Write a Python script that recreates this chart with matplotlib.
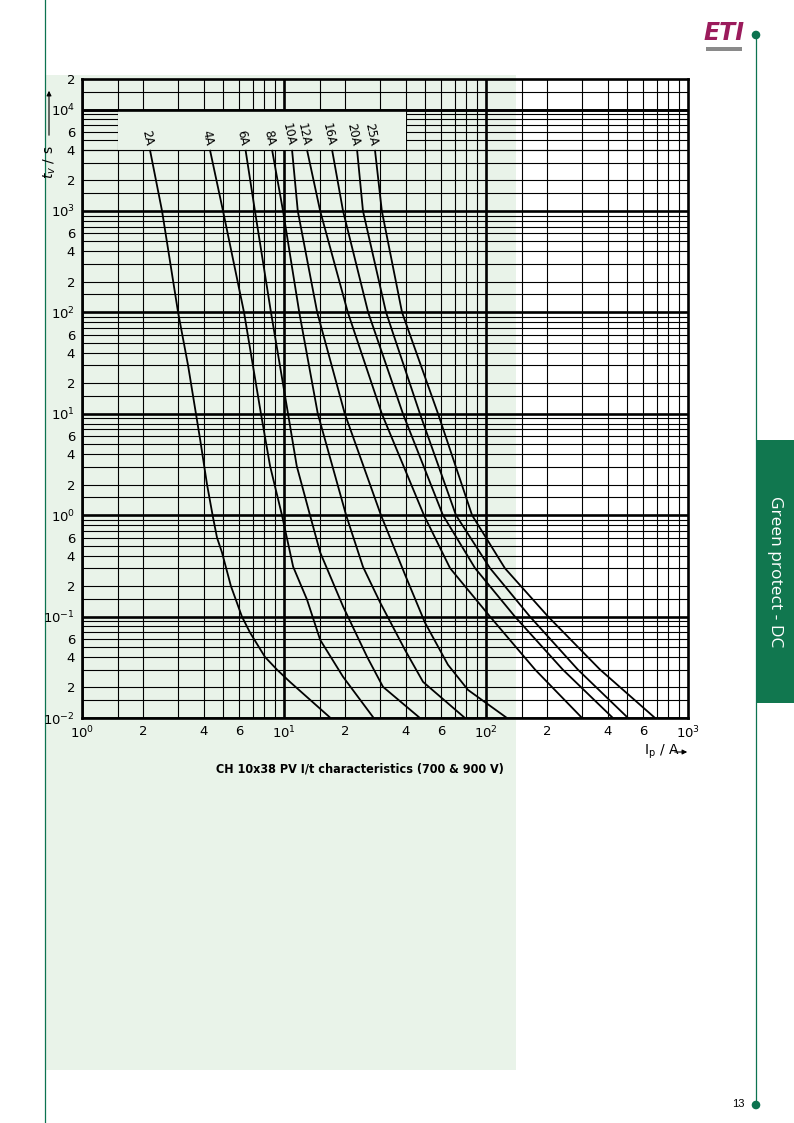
import matplotlib
matplotlib.use('Agg')
import matplotlib.pyplot as plt
from matplotlib.patches import Rectangle, Circle
from matplotlib import font_manager

W, H = 794, 1123

# ---------------- data ----------------
ratings = ['2A', '4A', '6A', '8A', '10A', '12A', '16A', '20A', '25A']

i_2A = [2.17, 2.49, 2.99, 3.35, 3.84, 4.16, 4.45, 4.66, 4.93, 5.46, 6.19, 6.79, 8.05, 9.23, 10.7, 17.0]
t_2A = [4000, 1000, 100, 30, 5.66, 2.0, 0.955, 0.6, 0.43, 0.2, 0.1, 0.0695, 0.04, 0.030, 0.0227, 0.01]

i_4A = [4.30, 4.99, 6.34, 7.69, 8.53, 9.77, 11.1, 13.0, 15.1, 19.6, 27.8]
t_4A = [4000, 1000, 100, 10, 3.06, 1.0, 0.31, 0.147, 0.059, 0.0255, 0.01]

i_6A = [6.45, 7.18, 8.62, 10.47, 11.56, 13.45, 15.1, 19.6, 25.8, 30.9, 47.1]
t_6A = [4000, 1000, 100, 10, 3.06, 1.0, 0.43, 0.126, 0.040, 0.0203, 0.01]

i_8A = [8.73, 9.89, 11.9, 14.7, 20.3, 24.6, 29.9, 39.7, 48.8, 78.7]
t_8A = [4000, 1000, 100, 10, 1.0, 0.31, 0.138, 0.047, 0.0227, 0.01]

i_10A = [10.96, 11.7, 14.6, 20.0, 30.2, 39.7, 49.9, 64.8, 81.5, 127]
t_10A = [4000, 1000, 100, 10, 1.0, 0.26, 0.087, 0.0335, 0.0189, 0.01]

t_big = [4000, 1000, 100, 10, 1.0, 0.3, 0.1, 0.03, 0.01]
i_12A = [13.0, 15.1, 20.7, 30.5, 49.3, 66.4, 104.7, 175, 299]
i_16A = [17.3, 19.6, 26.1, 38.8, 61.2, 88.3, 139, 240, 425]
i_20A = [23.0, 24.6, 32.0, 47.1, 71.0, 104.7, 165, 285, 505]
i_25A = [28.2, 30.5, 38.4, 57.9, 85.3, 124, 203, 367, 687]

curves_i = [i_2A, i_4A, i_6A, i_8A, i_10A, i_12A, i_16A, i_20A, i_25A]
curves_t = [t_2A, t_4A, t_6A, t_8A, t_10A, t_big, t_big, t_big, t_big]

x_ticks = [1, 2, 4, 6, 10, 20, 40, 60, 100, 200, 400, 600, 1000]
x_ticklabels = [r'$10^{0}$', '2', '4', '6', r'$10^{1}$', '2', '4', '6',
                r'$10^{2}$', '2', '4', '6', r'$10^{3}$']
y_ticks = [0.01, 0.02, 0.04, 0.06, 0.1, 0.2, 0.4, 0.6, 1, 2, 4, 6, 10, 20, 40, 60,
           100, 200, 400, 600, 1000, 2000, 4000, 6000, 10000, 20000]
y_ticklabels = [r'$10^{-2}$', '2', '4', '6', r'$10^{-1}$', '2', '4', '6',
                r'$10^{0}$', '2', '4', '6', r'$10^{1}$', '2', '4', '6',
                r'$10^{2}$', '2', '4', '6', r'$10^{3}$', '2', '4', '6',
                r'$10^{4}$', '2']

grid_mult = [1.5, 2, 3, 4, 5, 6, 7, 8, 9]
x_decades = [1, 10, 100]
y_decades = [0.01, 0.1, 1, 10, 100, 1000, 10000]

# ---------------- styling ----------------
BG = '#e9f3e9'
DKGREEN = '#0c7350'
TAB = '#11774f'

# pick a condensed bold face if one is installed
cond_family = None
cond_stretch = 'normal'
for f in font_manager.fontManager.ttflist:
    if f.stretch in ('condensed', 'semi-condensed', 'extra-condensed') or 'Narrow' in f.name or 'Condensed' in f.name:
        if f.weight in ('bold', 700, 'semibold', 600):
            cond_family = f.name
            cond_stretch = f.stretch
            break
if cond_family:
    cap_kw = dict(fontsize=9, fontweight='bold', family=[cond_family, 'DejaVu Sans'],
                  fontstretch=cond_stretch)
else:
    cap_kw = dict(fontsize=9, fontweight='bold', family=['Liberation Sans', 'DejaVu Sans'])

fig = plt.figure(figsize=(W / 100, H / 100), dpi=100)

# page overlay (pixel coordinates)
page = fig.add_axes([0, 0, 1, 1], zorder=0)
page.set_xlim(0, W)
page.set_ylim(H, 0)
page.axis('off')
page.add_patch(Rectangle((45, 75), 516 - 45, 1070 - 75, fc=BG, ec='none'))
page.plot([45, 45], [0, H], color=DKGREEN, lw=0.9)
page.plot([756, 756], [35, 1105], color=DKGREEN, lw=0.9)
page.add_patch(Circle((756, 35), 3.6, color=DKGREEN))
page.add_patch(Circle((756, 1105), 3.6, color=DKGREEN))
page.add_patch(Rectangle((756, 440), W - 756, 703 - 440, fc=TAB, ec='none'))
page.text(775, 572, 'Green protect - DC', rotation=-90, color='white',
          fontsize=12.5, family=['Open Sans', 'DejaVu Sans'],
          ha='center', va='center')
page.text(723.5, 33, 'ETI', color='#9b1b5c', fontsize=17, fontweight='heavy',
          style='italic', ha='center', va='center', family=['DejaVu Sans'])
page.add_patch(Rectangle((706, 47), 36, 4, fc='#8a8a8a', ec='none'))
page.text(745, 1104, '13', fontsize=8, ha='right', va='center',
          family=['Liberation Sans', 'DejaVu Sans'])
page.text(360, 769, 'CH 10x38 PV I/t characteristics (700 & 900 V)',
          ha='center', va='center', **cap_kw)
# axis titles
page.text(50, 162, r'$t_v$ / s', rotation=90, fontsize=10, ha='center', va='center')
page.annotate('', xy=(49, 88), xytext=(49, 138),
              arrowprops=dict(arrowstyle='-|>', lw=0.8, color='black',
                              mutation_scale=7))
page.text(644, 752, r'$\mathrm{I_p}$ / A', fontsize=10, ha='left', va='center')
page.annotate('', xy=(690, 752), xytext=(672, 752),
              arrowprops=dict(arrowstyle='-|>', lw=0.8, color='black',
                              mutation_scale=7))

# chart axes
L, R, T, B = 82, 688, 79, 718
ax = fig.add_axes([L / W, 1 - B / H, (R - L) / W, (B - T) / H], zorder=1)
ax.set_facecolor('none')
ax.set_xscale('log')
ax.set_yscale('log')
ax.set_xlim(1, 1000)
ax.set_ylim(0.01, 20000)

thin, thick = 0.8, 1.9
for d in x_decades:
    ax.axvline(d, color='black', lw=thick, zorder=1)
    for m in grid_mult:
        ax.axvline(d * m, color='black', lw=thin, zorder=1)
for d in y_decades:
    ax.axhline(d, color='black', lw=thick, zorder=1)
    for m in grid_mult:
        if d * m <= 20000:
            ax.axhline(d * m, color='black', lw=thin, zorder=1)

# label box hiding the grid
ax.add_patch(Rectangle((1.5, 4000), 40 - 1.5, 10000 - 4000, fc=BG, ec='none', zorder=2))
ax.axhline(10000, color='black', lw=thick, zorder=2.5)
ax.axhline(4000, color='black', lw=thin, zorder=2.5)

for s in ax.spines.values():
    s.set_linewidth(thick)
    s.set_zorder(5)

for name, ii, tt in zip(ratings, curves_i, curves_t):
    ax.plot(ii, tt, color='black', lw=1.3, zorder=4, solid_capstyle='butt',
            solid_joinstyle='round')
    ax.annotate(name, xy=(ii[0], tt[0]), xytext=(-1, 3), textcoords='offset points',
                rotation=-78, rotation_mode='anchor', ha='right', va='center',
                fontsize=8.5, zorder=6)

ax.set_xticks(x_ticks)
ax.set_xticklabels(x_ticklabels)
ax.set_yticks(y_ticks)
ax.set_yticklabels(y_ticklabels)
ax.minorticks_off()
ax.tick_params(length=0, labelsize=9.5, pad=5)

fig.savefig('out.png', dpi=100)
